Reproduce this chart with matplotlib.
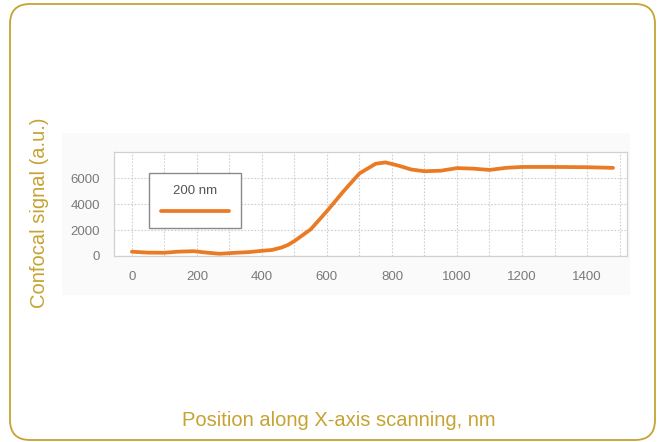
import matplotlib
matplotlib.use("Agg")
import matplotlib.pyplot as plt
from matplotlib.patches import FancyBboxPatch, Rectangle
from matplotlib.ticker import MultipleLocator

plt.rcParams['font.family'] = ['Liberation Sans', 'DejaVu Sans']

# Data
position_nm = [0, 50, 100, 140, 190, 230, 270, 320, 360, 400, 430, 460, 480,
               500, 550, 600, 650, 700, 750, 780, 820, 860, 900, 950, 1000,
               1050, 1100, 1150, 1200, 1300, 1400, 1480]
signal = [330, 260, 250, 330, 370, 260, 170, 250, 300, 400, 460, 650, 850,
          1150, 2050, 3450, 4950, 6350, 7100, 7200, 6950, 6650, 6520, 6560, 6760,
          6720, 6620, 6780, 6850, 6850, 6830, 6780]
x_ticks = [0, 200, 400, 600, 800, 1000, 1200, 1400]
y_ticks = [0, 2000, 4000, 6000]
legend_title = "200 nm"

gold = '#C6A332'
orange = '#EA7A24'
tick_gray = '#7a7a7a'

W, H = 657, 442
fig = plt.figure(figsize=(W / 100, H / 100), dpi=100)

# faint pasted-image background
fig.patches.append(Rectangle((62 / W, 1 - 295 / H), (630 - 62) / W, (295 - 133) / H,
                             transform=fig.transFigure, facecolor='#fafafa',
                             edgecolor='none', zorder=-2))

# rounded golden border
fig.patches.append(FancyBboxPatch((0.10, 0.02), 6.45, 4.36,
                                  boxstyle="round,pad=0,rounding_size=0.2",
                                  transform=fig.dpi_scale_trans, facecolor='none',
                                  edgecolor=gold, linewidth=1.3, zorder=-1))

ax = fig.add_axes([114 / W, 1 - 256 / H, (627 - 114) / W, (256 - 152) / H])
ax.set_zorder(2)
ax.set_facecolor('white')
line, = ax.plot(position_nm, signal, color=orange, linewidth=2.7,
                solid_capstyle='round', solid_joinstyle='round')

ax.set_xlim(-55, 1523)
ax.set_ylim(0, 8000)
ax.set_xticks(x_ticks)
ax.set_yticks(y_ticks)
ax.xaxis.set_minor_locator(MultipleLocator(100))
ax.grid(True, which='both', axis='x', color='#cfcfcf', linestyle=(0, (1.5, 1.5)), linewidth=0.8)
ax.grid(True, which='major', axis='y', color='#cfcfcf', linestyle=(0, (1.5, 1.5)), linewidth=0.8)
ax.set_axisbelow(True)
ax.tick_params(which='both', length=0, colors=tick_gray, labelsize=9.5)
ax.tick_params(axis='x', pad=11)
ax.tick_params(axis='y', pad=10)
for s in ax.spines.values():
    s.set_color('#d0d0d0')
    s.set_linewidth(0.9)

leg = ax.legend(handles=[line], labels=[''], title=legend_title,
                loc='upper left', bbox_to_anchor=(0.068, 0.80),
                borderaxespad=0,
                handlelength=9.7, fancybox=False, framealpha=1,
                edgecolor='#8a8a8a', borderpad=1.8, title_fontsize=9.5,
                handletextpad=0, fontsize=5, labelspacing=1.6)
leg.get_title().set_color('#555555')
leg.get_frame().set_linewidth(1.0)

fig.text(339 / W, 1 - 421 / H, "Position along X-axis scanning, nm", color=gold,
         fontsize=14.5, ha='center', va='center')
fig.text(40 / W, 1 - 213 / H, "Confocal signal (a.u.)", color=gold,
         fontsize=14.5, ha='center', va='center', rotation=90)

fig.savefig("out.png", dpi=100)
